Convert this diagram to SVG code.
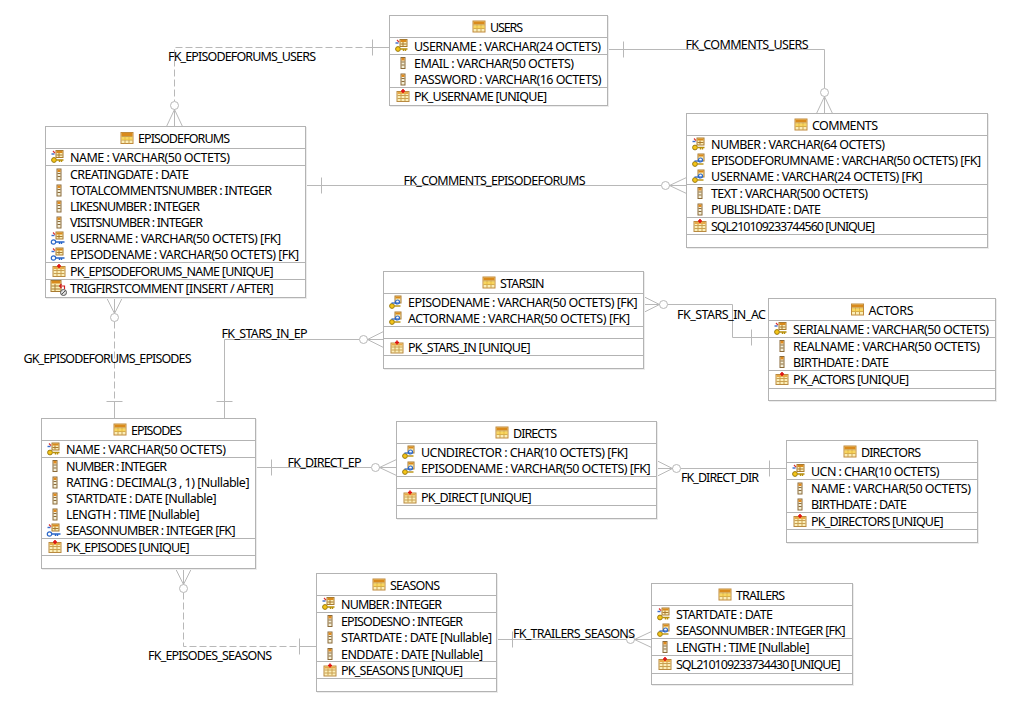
<svg xmlns="http://www.w3.org/2000/svg" width="1010" height="704" viewBox="0 0 1010 704">
<style>
text{font-family:"Noto Sans","Open Sans","Liberation Sans",sans-serif;font-size:12.5px;fill:#000;transform:translate(-.5px,.5px)}
.box{fill:#fff;stroke:#b3b3b3;stroke-width:1}
.shadow{fill:none;stroke:#ececec;stroke-width:1}
.sep{stroke:#b3b3b3;stroke-width:1;fill:none}
.c{stroke:#b8b8b8;stroke-width:1;fill:none}
.d{stroke:#b8b8b8;stroke-width:1;fill:none;stroke-dasharray:7 3}
.o{stroke:#b8b8b8;stroke-width:1;fill:#fff}
</style>
<defs>
<g id="tbl"><rect x="0.5" y="0.5" width="12" height="11" fill="#fbeeb8" stroke="#c08a3c"/><rect x="1" y="1" width="11" height="3" fill="#d98a1c"/><path d="M1 4.5H12M1 8H12M4.5 4V11.5M8.5 4V11.5" stroke="#c9a050" stroke-width="1" fill="none"/><rect x="1" y="5" width="11" height="3" fill="#f7cc3c" opacity=".7"/></g>
<g id="col"><rect x="-13.5" y="-5.5" width="4" height="11" fill="#f4efd8" stroke="#8a6a3a"/><rect x="-13" y="-5" width="3" height="2.5" fill="#e08a1e"/><path d="M-13 -1H-10M-13 2H-10" stroke="#8a6a3a" fill="none"/></g>
<g id="tsm"><rect x="-14.5" y="-6.5" width="7" height="7" fill="#fbeeb8" stroke="#a87a30"/><rect x="-14" y="-6" width="6" height="2" fill="#d98a1c"/><path d="M-11.5 -4V0M-14 -2H-8" stroke="#a87a30" fill="none"/></g>
<g id="pk"><use href="#tsm"/><path d="M-19 -3H-16" stroke="#3a6ccc" stroke-width="1.4"/><path d="M-17.5 -6L-15.5 -3.8" stroke="#d83030" stroke-width="1.2"/><circle cx="-16.5" cy="3" r="2.4" fill="#f5c518" stroke="#9a7a10"/><path d="M-14 3H-7M-9 3V5M-11 3V5" stroke="#b8900c" stroke-width="1.4" fill="none"/></g>
<g id="fk"><use href="#tsm"/><path d="M-19 -3H-16" stroke="#3a6ccc" stroke-width="1.4"/><path d="M-17.5 -6L-15.5 -3.8" stroke="#d83030" stroke-width="1.2"/><circle cx="-17" cy="3.5" r="2.2" fill="#fff" stroke="#2a66c8" stroke-width="1.2"/><path d="M-14.5 3.5H-6M-9 3.5V5.5M-11 3.5V5.5" stroke="#2a66c8" stroke-width="1.4" fill="none"/></g>
<g id="pfk"><rect x="-13.5" y="-6.5" width="6" height="7" fill="#fbeeb8" stroke="#a87a30"/><rect x="-13" y="-6" width="5" height="2" fill="#d98a1c"/><circle cx="-16.5" cy="3.5" r="2.4" fill="#f5c518" stroke="#9a7a10"/><path d="M-14 3.5H-8" stroke="#b8900c" stroke-width="1.4"/><circle cx="-11" cy="-0.5" r="2" fill="#fff" stroke="#2a66c8" stroke-width="1.2"/><path d="M-17 0.5H-9" stroke="#2a66c8" stroke-width="1.2"/></g>
<g id="idx"><rect x="-17.5" y="-4.5" width="12" height="10" fill="#fbeeb8" stroke="#b98a40"/><rect x="-17" y="-4" width="11" height="2" fill="#e8a948"/><path d="M-17 -0.5H-6M-17 2.5H-6M-13.5 -2V5M-9.5 -2V5" stroke="#c9a050" fill="none"/><path d="M-11.5 -7V-3M-13.5 -5H-9.5" stroke="#e01010" stroke-width="1.6"/></g>
<g id="trg"><rect x="-19.5" y="-7.5" width="10" height="11" fill="#fbeeb8" stroke="#a87a30"/><rect x="-19" y="-7" width="9" height="2.5" fill="#d98a1c"/><path d="M-15.5 -4V3M-19 -2H-10M-19 1H-10" stroke="#a87a30" fill="none"/><path d="M-11 -2H-6V1M-11 -2L-9 -4M-11 -2L-9 0" stroke="#d02020" stroke-width="1.2" fill="none"/><circle cx="-7" cy="4.5" r="3" fill="#ddd" stroke="#555"/><path d="M-9 6.5L-5 2.5" stroke="#555"/></g>
</defs>
<rect width="1010" height="704" fill="#fff"/>

<g id="connectors">
<g id="fk-episodeforums-users"><path class="d" d="M372.5 47.5H174.5V101"/><path class="c" d="M389.5 47.5H372.5M372.5 39.5V55.5"/><circle class="o" cx="174.5" cy="105.5" r="4"/><path class="c" d="M174.5 109.5L166.5 126.5M174.5 109.5V126.5M174.5 109.5L182.5 126.5"/></g>
<g id="fk-comments-users"><path class="c" d="M607.5 49.5H824.5V88M623.5 41.5V57.5"/><circle class="o" cx="824.5" cy="92.5" r="4"/><path class="c" d="M824.5 96.5L816.5 113.5M824.5 96.5V113.5M824.5 96.5L832.5 113.5"/></g>
<g id="fk-comments-episodeforums"><path class="c" d="M305.5 185.5H661M321.5 177.5V193.5"/><circle class="o" cx="665.5" cy="185.5" r="4"/><path class="c" d="M669.5 185.5L686.5 177.5M669.5 185.5H686.5M669.5 185.5L686.5 193.5"/></g>
<g id="fk-stars-in-ep"><path class="c" d="M224.5 418.5V339.5H359M216.5 401.5H232.5"/><circle class="o" cx="363.5" cy="339.5" r="4"/><path class="c" d="M367.5 339.5L383.5 331.5M367.5 339.5H383.5M367.5 339.5L383.5 347.5"/></g>
<g id="gk-episodeforums-episodes"><path class="d" d="M114.5 321.5V401.5"/><path class="c" d="M114.5 401.5V418.5M106.5 401.5H122.5M114.5 313.5L106.5 297.5M114.5 313.5V297.5M114.5 313.5L122.5 297.5"/><circle class="o" cx="114.5" cy="317.5" r="4"/></g>
<g id="fk-stars-in-ac"><path class="c" d="M667.5 304.5H732.5V337.5H768.5M751.5 329.5V345.5"/><circle class="o" cx="663.5" cy="304.5" r="4"/><path class="c" d="M659.5 304.5L643.5 296.5M659.5 304.5H643.5M659.5 304.5L643.5 312.5"/></g>
<g id="fk-direct-ep"><path class="c" d="M255.5 467.5H371M271.5 459.5V475.5"/><circle class="o" cx="375.5" cy="467.5" r="4"/><path class="c" d="M379.5 467.5L396.5 459.5M379.5 467.5H396.5M379.5 467.5L396.5 475.5"/></g>
<g id="fk-direct-dir"><path class="c" d="M681 468.5H786.5M769.5 460.5V476.5"/><circle class="o" cx="676.5" cy="468.5" r="4"/><path class="c" d="M672.5 468.5L656.5 460.5M672.5 468.5H656.5M672.5 468.5L656.5 476.5"/></g>
<g id="fk-trailers-seasons"><path class="c" d="M496.5 639.5H626M512.5 631.5V647.5"/><circle class="o" cx="630.5" cy="639.5" r="4"/><path class="c" d="M634.5 639.5L651.5 631.5M634.5 639.5H651.5M634.5 639.5L651.5 647.5"/></g>
<g id="fk-episodes-seasons"><path class="d" d="M183.5 592.5V646.5H299.5"/><path class="c" d="M299.5 646.5H316.5M299.5 638.5V654.5M183.5 584.5L175.5 568.5M183.5 584.5V568.5M183.5 584.5L191.5 568.5"/><circle class="o" cx="183.5" cy="588.5" r="4"/></g>
<text x="168.5" y="60" textLength="148">FK_EPISODEFORUMS_USERS</text>
<text x="686" y="48" textLength="123">FK_COMMENTS_USERS</text>
<text x="404" y="184" textLength="182">FK_COMMENTS_EPISODEFORUMS</text>
<text x="222" y="337" textLength="86">FK_STARS_IN_EP</text>
<text x="677.5" y="318" textLength="89">FK_STARS_IN_AC</text>
<text x="24" y="362" textLength="168">GK_EPISODEFORUMS_EPISODES</text>
<text x="288" y="466" textLength="74">FK_DIRECT_EP</text>
<text x="681.5" y="481" textLength="78">FK_DIRECT_DIR</text>
<text x="513.5" y="637" textLength="122">FK_TRAILERS_SEASONS</text>
<text x="148.5" y="659" textLength="124">FK_EPISODES_SEASONS</text>
</g>

<g id="users">
<rect class="shadow" x="390.5" y="16.5" width="218" height="90"/><rect class="box" x="389.5" y="15.5" width="218" height="90"/>
<path class="sep" d="M389.5 37.5H607.5M389.5 54.5H607.5M389.5 87.5H607.5"/>
<use href="#tbl" x="472.5" y="20.5"/><text x="490.5" y="31" textLength="33">USERS</text>
<use href="#pk" x="414.5" y="46"/><text x="414.5" y="50" textLength="187">USERNAME : VARCHAR(24 OCTETS)</text>
<use href="#col" x="414.5" y="63"/><text x="414.5" y="67" textLength="160">EMAIL : VARCHAR(50 OCTETS)</text>
<use href="#col" x="414.5" y="79.5"/><text x="414.5" y="83.5" textLength="187.5">PASSWORD : VARCHAR(16 OCTETS)</text>
<use href="#idx" x="414.5" y="96"/><text x="414.5" y="100" textLength="133">PK_USERNAME [UNIQUE]</text>
</g>

<g id="episodeforums">
<rect class="shadow" x="46.5" y="127.5" width="260" height="171"/><rect class="box" x="45.5" y="126.5" width="260" height="171"/>
<path class="sep" d="M45.5 148.5H305.5M45.5 165.5H305.5M45.5 262.5H305.5M45.5 279.5H305.5"/>
<use href="#tbl" x="120.5" y="132"/><text x="138.5" y="142" textLength="92">EPISODEFORUMS</text>
<use href="#pk" x="70.5" y="157"/><text x="70.5" y="161" textLength="160">NAME : VARCHAR(50 OCTETS)</text>
<use href="#col" x="70.5" y="174.5"/><text x="70.5" y="178.5" textLength="119">CREATINGDATE : DATE</text>
<use href="#col" x="70.5" y="190.5"/><text x="70.5" y="194.5" textLength="202">TOTALCOMMENTSNUMBER : INTEGER</text>
<use href="#col" x="70.5" y="206.5"/><text x="70.5" y="210.5" textLength="130">LIKESNUMBER : INTEGER</text>
<use href="#col" x="70.5" y="222.5"/><text x="70.5" y="226.5" textLength="133">VISITSNUMBER : INTEGER</text>
<use href="#fk" x="70.5" y="238.5"/><text x="70.5" y="242.5" textLength="211">USERNAME : VARCHAR(50 OCTETS) [FK]</text>
<use href="#fk" x="70.5" y="254.5"/><text x="70.5" y="258.5" textLength="229">EPISODENAME : VARCHAR(50 OCTETS) [FK]</text>
<use href="#idx" x="70.5" y="271"/><text x="70.5" y="275" textLength="203.5">PK_EPISODEFORUMS_NAME [UNIQUE]</text>
<use href="#trg" x="70.5" y="288"/><text x="70.5" y="292" textLength="203.5">TRIGFIRSTCOMMENT [INSERT / AFTER]</text>
</g>

<g id="comments">
<rect class="shadow" x="687.5" y="114.5" width="301" height="134"/><rect class="box" x="686.5" y="113.5" width="301" height="134"/>
<path class="sep" d="M686.5 135.5H987.5M686.5 184.5H987.5M686.5 217.5H987.5M686.5 234.5H987.5"/>
<use href="#tbl" x="794.5" y="118.5"/><text x="812.5" y="129" textLength="66">COMMENTS</text>
<use href="#pk" x="711.5" y="144.5"/><text x="711.5" y="148.5" textLength="174">NUMBER : VARCHAR(64 OCTETS)</text>
<use href="#pfk" x="711.5" y="160.5"/><text x="711.5" y="164.5" textLength="270">EPISODEFORUMNAME : VARCHAR(50 OCTETS) [FK]</text>
<use href="#pfk" x="711.5" y="176.5"/><text x="711.5" y="180.5" textLength="211.5">USERNAME : VARCHAR(24 OCTETS) [FK]</text>
<use href="#col" x="711.5" y="193"/><text x="711.5" y="197" textLength="157">TEXT : VARCHAR(500 OCTETS)</text>
<use href="#col" x="711.5" y="209.5"/><text x="711.5" y="213.5" textLength="110">PUBLISHDATE : DATE</text>
<use href="#idx" x="711.5" y="226"/><text x="711.5" y="230" textLength="164">SQL210109233744560 [UNIQUE]</text>
</g>

<g id="starsin">
<rect class="shadow" x="384.5" y="272.5" width="260" height="97"/><rect class="box" x="383.5" y="271.5" width="260" height="97"/>
<path class="sep" d="M383.5 293.5H643.5M383.5 326.5H643.5M383.5 338.5H643.5M383.5 355.5H643.5"/>
<use href="#tbl" x="482.5" y="276.5"/><text x="500.5" y="287" textLength="44.5">STARSIN</text>
<use href="#pfk" x="408.5" y="302.5"/><text x="408.5" y="306.5" textLength="229.5">EPISODENAME : VARCHAR(50 OCTETS) [FK]</text>
<use href="#pfk" x="408.5" y="318.5"/><text x="408.5" y="322.5" textLength="222">ACTORNAME : VARCHAR(50 OCTETS) [FK]</text>
<use href="#idx" x="408.5" y="347.5"/><text x="408.5" y="351.5" textLength="122.5">PK_STARS_IN [UNIQUE]</text>
</g>

<g id="actors">
<rect class="shadow" x="769.5" y="299.5" width="227" height="102"/><rect class="box" x="768.5" y="298.5" width="227" height="102"/>
<path class="sep" d="M768.5 320.5H995.5M768.5 337.5H995.5M768.5 370.5H995.5M768.5 388.5H995.5"/>
<use href="#tbl" x="851" y="303.5"/><text x="869" y="314" textLength="45">ACTORS</text>
<use href="#pk" x="793.5" y="329"/><text x="793.5" y="333" textLength="196">SERIALNAME : VARCHAR(50 OCTETS)</text>
<use href="#col" x="793.5" y="346"/><text x="793.5" y="350" textLength="187">REALNAME : VARCHAR(50 OCTETS)</text>
<use href="#col" x="793.5" y="362"/><text x="793.5" y="366" textLength="96">BIRTHDATE : DATE</text>
<use href="#idx" x="793.5" y="379"/><text x="793.5" y="383" textLength="116">PK_ACTORS [UNIQUE]</text>
</g>

<g id="episodes">
<rect class="shadow" x="42.5" y="419.5" width="214" height="150"/><rect class="box" x="41.5" y="418.5" width="214" height="150"/>
<path class="sep" d="M41.5 440.5H255.5M41.5 457.5H255.5M41.5 538.5H255.5M41.5 555.5H255.5"/>
<use href="#tbl" x="113.5" y="423.5"/><text x="131.5" y="434" textLength="51">EPISODES</text>
<use href="#pk" x="66.5" y="449.5"/><text x="66.5" y="453.5" textLength="160">NAME : VARCHAR(50 OCTETS)</text>
<use href="#col" x="66.5" y="466"/><text x="66.5" y="470" textLength="101">NUMBER : INTEGER</text>
<use href="#col" x="66.5" y="482.5"/><text x="66.5" y="486.5" textLength="183.5">RATING : DECIMAL(3 , 1) [Nullable]</text>
<use href="#col" x="66.5" y="498.5"/><text x="66.5" y="502.5" textLength="150.5">STARTDATE : DATE [Nullable]</text>
<use href="#col" x="66.5" y="514.5"/><text x="66.5" y="518.5" textLength="133.5">LENGTH : TIME [Nullable]</text>
<use href="#fk" x="66.5" y="530.5"/><text x="66.5" y="534.5" textLength="169.5">SEASONNUMBER : INTEGER [FK]</text>
<use href="#idx" x="66.5" y="547"/><text x="66.5" y="551" textLength="123.5">PK_EPISODES [UNIQUE]</text>
</g>

<g id="directs">
<rect class="shadow" x="397.5" y="422.5" width="260" height="97"/><rect class="box" x="396.5" y="421.5" width="260" height="97"/>
<path class="sep" d="M396.5 443.5H656.5M396.5 476.5H656.5M396.5 488.5H656.5M396.5 505.5H656.5"/>
<use href="#tbl" x="495.5" y="426.5"/><text x="513.5" y="437" textLength="44">DIRECTS</text>
<use href="#pfk" x="421.5" y="452.5"/><text x="421.5" y="456.5" textLength="207">UCNDIRECTOR : CHAR(10 OCTETS) [FK]</text>
<use href="#pfk" x="421.5" y="468.5"/><text x="421.5" y="472.5" textLength="229.5">EPISODENAME : VARCHAR(50 OCTETS) [FK]</text>
<use href="#idx" x="421.5" y="497.5"/><text x="421.5" y="501.5" textLength="110.5">PK_DIRECT [UNIQUE]</text>
</g>

<g id="directors">
<rect class="shadow" x="787.5" y="441.5" width="191" height="102"/><rect class="box" x="786.5" y="440.5" width="191" height="102"/>
<path class="sep" d="M786.5 462.5H977.5M786.5 479.5H977.5M786.5 512.5H977.5M786.5 529.5H977.5"/>
<use href="#tbl" x="843.5" y="445.5"/><text x="861.5" y="456" textLength="60">DIRECTORS</text>
<use href="#pk" x="811.5" y="471"/><text x="811.5" y="475" textLength="128.5">UCN : CHAR(10 OCTETS)</text>
<use href="#col" x="811.5" y="488.5"/><text x="811.5" y="492.5" textLength="160">NAME : VARCHAR(50 OCTETS)</text>
<use href="#col" x="811.5" y="504.5"/><text x="811.5" y="508.5" textLength="96">BIRTHDATE : DATE</text>
<use href="#idx" x="811.5" y="521"/><text x="811.5" y="525" textLength="132.5">PK_DIRECTORS [UNIQUE]</text>
</g>

<g id="seasons">
<rect class="shadow" x="317.5" y="574.5" width="180" height="118"/><rect class="box" x="316.5" y="573.5" width="180" height="118"/>
<path class="sep" d="M316.5 595.5H496.5M316.5 612.5H496.5M316.5 661.5H496.5M316.5 678.5H496.5"/>
<use href="#tbl" x="372.5" y="578.5"/><text x="390.5" y="589" textLength="50">SEASONS</text>
<use href="#pk" x="341.5" y="604"/><text x="341.5" y="608" textLength="101">NUMBER : INTEGER</text>
<use href="#col" x="341.5" y="621"/><text x="341.5" y="625" textLength="122">EPISODESNO : INTEGER</text>
<use href="#col" x="341.5" y="637.5"/><text x="341.5" y="641.5" textLength="151">STARTDATE : DATE [Nullable]</text>
<use href="#col" x="341.5" y="654"/><text x="341.5" y="658" textLength="142">ENDDATE : DATE [Nullable]</text>
<use href="#idx" x="341.5" y="670.5"/><text x="341.5" y="674.5" textLength="122">PK_SEASONS [UNIQUE]</text>
</g>

<g id="trailers">
<rect class="shadow" x="652.5" y="584.5" width="201" height="101"/><rect class="box" x="651.5" y="583.5" width="201" height="101"/>
<path class="sep" d="M651.5 605.5H852.5M651.5 638.5H852.5M651.5 655.5H852.5M651.5 673.5H852.5"/>
<use href="#tbl" x="718.5" y="588.5"/><text x="736.5" y="599" textLength="49">TRAILERS</text>
<use href="#pk" x="676.5" y="614.5"/><text x="676.5" y="618.5" textLength="97">STARTDATE : DATE</text>
<use href="#pfk" x="676.5" y="630.5"/><text x="676.5" y="634.5" textLength="169.5">SEASONNUMBER : INTEGER [FK]</text>
<use href="#col" x="676.5" y="647"/><text x="676.5" y="651" textLength="133.5">LENGTH : TIME [Nullable]</text>
<use href="#idx" x="676.5" y="664"/><text x="676.5" y="668" textLength="164.5">SQL210109233734430 [UNIQUE]</text>
</g>
</svg>
